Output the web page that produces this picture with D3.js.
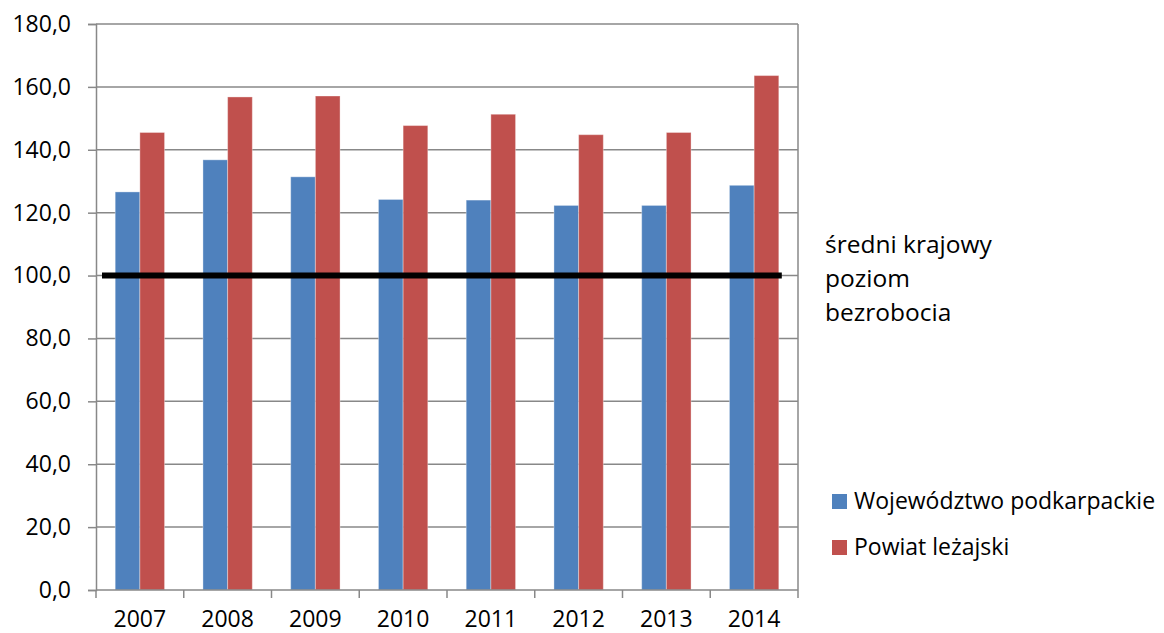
<!DOCTYPE html>
<html>
<head>
<meta charset="utf-8">
<script src="https://cdn.jsdelivr.net/npm/d3@7"></script>
<style>
  body { margin: 0; background: #fff; }
  text { font-family: "Open Sans", "Noto Sans", sans-serif; fill: #000; }
</style>
</head>
<body>
<svg id="chart" width="1164" height="633"></svg>
<script>
// Years on the x axis.
var years = ['2007', '2008', '2009', '2010', '2011', '2012', '2013', '2014'];
// Unemployment level relative to the national average (=100).
var wojewodztwo = [126.6, 136.8, 131.4, 124.2, 124.0, 122.3, 122.3, 128.7];
var powiat = [145.5, 156.8, 157.1, 147.7, 151.3, 144.8, 145.5, 163.6];
var seriesNames = ['Województwo podkarpackie', 'Powiat leżajski'];
var seriesColors = ['#4F81BD', '#C0504D'];
var yTicks = [0, 20, 40, 60, 80, 100, 120, 140, 160, 180];
var nationalLevel = 100;
var noteLines = ['średni krajowy', 'poziom', 'bezrobocia'];

var svg = d3.select('#chart');
var margin = {left: 96, right: 366, top: 24, bottom: 43};
var width = 1164 - margin.left - margin.right;
var height = 633 - margin.top - margin.bottom;

var g = svg.append('g')
  .attr('transform', 'translate(' + margin.left + ',' + margin.top + ')');

var x = d3.scaleBand().domain(years).range([0, width])
  .paddingInner(0.4375).paddingOuter(0.21875);
var xSeries = d3.scaleBand().domain([0, 1]).range([0, x.bandwidth()]);
var y = d3.scaleLinear().domain([0, 180]).range([height, 0]);

var fmt = function(d) { return d3.format('.1f')(d).replace('.', ','); };

// gridlines
g.append('g').selectAll('line')
  .data(yTicks.slice(1))
  .join('line')
  .attr('x1', 0).attr('x2', width)
  .attr('y1', function(d) { return y(d); })
  .attr('y2', function(d) { return y(d); })
  .attr('stroke', '#888').attr('stroke-width', 1.5);

// right border
g.append('line')
  .attr('x1', width).attr('x2', width)
  .attr('y1', 0).attr('y2', height)
  .attr('stroke', '#888').attr('stroke-width', 1.5);

// bars
var data = years.map(function(yr, i) {
  return {year: yr, values: [wojewodztwo[i], powiat[i]]};
});
g.append('g').selectAll('g')
  .data(data)
  .join('g')
  .attr('transform', function(d) { return 'translate(' + x(d.year) + ',0)'; })
  .selectAll('rect')
  .data(function(d) { return d.values; })
  .join('rect')
  .attr('x', function(d, i) { return xSeries(i); })
  .attr('width', xSeries.bandwidth())
  .attr('y', function(d) { return y(d); })
  .attr('height', function(d) { return height - y(d); })
  .attr('fill', function(d, i) { return seriesColors[i]; })
  .attr('stroke', 'rgba(255,255,255,0.35)')
  .attr('stroke-width', 1);

// national average line
g.append('line')
  .attr('x1', 6)
  .attr('x2', x(years[years.length - 1]) + x.bandwidth() + 3)
  .attr('y1', y(nationalLevel)).attr('y2', y(nationalLevel))
  .attr('stroke', '#000').attr('stroke-width', 6);

// y axis
var yAxis = g.append('g')
  .call(d3.axisLeft(y).tickValues(yTicks).tickFormat(fmt).tickSize(8).tickPadding(17));
yAxis.select('.domain').attr('stroke', '#888').attr('stroke-width', 1.5);
yAxis.selectAll('.tick line').attr('stroke', '#888').attr('stroke-width', 1.5);
yAxis.selectAll('text')
  .style('font-family', '"Open Sans", sans-serif').style('font-size', '23px')
  .attr('fill', '#000');

// x axis: ticks at category boundaries
var xAxis = g.append('g').attr('transform', 'translate(0,' + height + ')');
xAxis.append('line')
  .attr('x1', 0).attr('x2', width)
  .attr('stroke', '#888').attr('stroke-width', 1.5);
xAxis.selectAll('line.tk')
  .data(d3.range(years.length + 1))
  .join('line')
  .attr('class', 'tk')
  .attr('x1', function(i) { return i * x.step(); })
  .attr('x2', function(i) { return i * x.step(); })
  .attr('y1', 0).attr('y2', 8)
  .attr('stroke', '#888').attr('stroke-width', 1.5);
xAxis.selectAll('text')
  .data(years)
  .join('text')
  .attr('x', function(d) { return x(d) + x.bandwidth() / 2; })
  .attr('y', 37)
  .attr('text-anchor', 'middle')
  .style('font-size', '23px')
  .text(function(d) { return d; });

// note next to the line
svg.append('g').selectAll('text')
  .data(noteLines)
  .join('text')
  .attr('x', 825)
  .attr('y', function(d, i) { return 253 + i * 34; })
  .style('font-size', '24.5px')
  .text(function(d) { return d; });

// legend
var legend = svg.append('g').attr('transform', 'translate(832,494)');
var items = legend.selectAll('g')
  .data(seriesNames)
  .join('g')
  .attr('transform', function(d, i) { return 'translate(0,' + i * 46 + ')'; });
items.append('rect')
  .attr('width', 15).attr('height', 15)
  .attr('fill', function(d, i) { return seriesColors[i]; });
items.append('text')
  .attr('x', 22).attr('y', 15)
  .style('font-size', '23px')
  .text(function(d) { return d; });
</script>
</body>
</html>
